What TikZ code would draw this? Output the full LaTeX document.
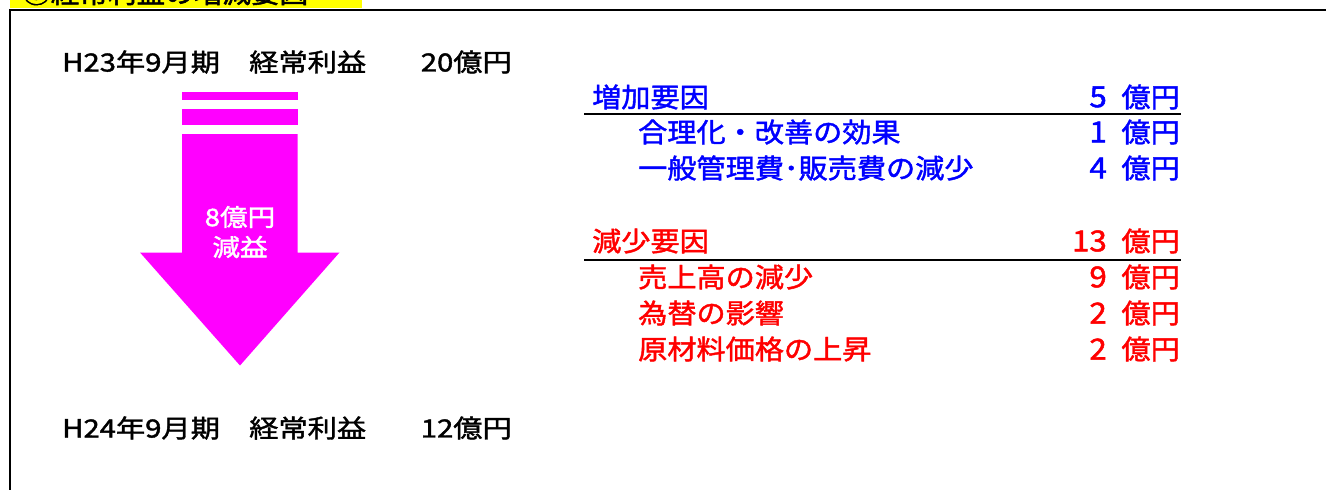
\documentclass[tikz,border=0pt]{standalone}
\usepackage{fontspec}
\setmainfont{Noto Sans CJK JP}
\newfontfamily\leftfont{Noto Sans CJK JP}[FakeStretch=1.17, FakeBold=1.6]
\newfontfamily\rightfont{Noto Sans CJK JP}[FakeStretch=1.08, FakeBold=1.6]
\newfontfamily\arrfont{Noto Sans CJK JP}[FakeStretch=1.15, FakeBold=1.6]
\newfontfamily\titlefont{Noto Sans CJK JP}[FakeStretch=1.1, FakeBold=2]
\definecolor{mag}{RGB}{255,0,255}
\definecolor{bluetxt}{RGB}{0,0,255}
\definecolor{redtxt}{RGB}{255,0,0}
\definecolor{titlebg}{RGB}{255,255,0}
\begin{document}
\begin{tikzpicture}[x=1pt,y=-1pt,
  lefttxt/.style={inner sep=0pt, font=\leftfont\fontsize{25}{25}\selectfont},
  rtxt/.style={inner sep=0pt, font=\rightfont\fontsize{27}{27}\selectfont},
  numtxt/.style={inner sep=0pt, font=\rightfont\fontsize{29}{29}\selectfont},
  arrowtxt/.style={inner sep=0pt, text=white, font=\arrfont\fontsize{24}{24}\selectfont},
  rule/.style={line width=2pt, black}]
\useasboundingbox (0,0) rectangle (1326,490);
\clip (0,0) rectangle (1326,490);
% title (cut off at top)
\fill[titlebg] (10,-20) rectangle (362,8);
\node[anchor=base west, inner sep=0pt, font=\titlefont\fontsize{26}{26}\selectfont] (title) at (22,3) {③経常利益の増減要因};
% frame
\draw[line width=2.5pt] (10,495) -- (10,10) -- (1330,10);
% left texts
\node[lefttxt, anchor=west] (h23) at (62,62) {H23年9月期　経常利益};
\node[lefttxt, anchor=east] (v23) at (512,62) {20億円};
\node[lefttxt, anchor=west] (h24) at (62,428) {H24年9月期　経常利益};
\node[lefttxt, anchor=east] (v24) at (512,428) {12億円};
% arrow
\fill[mag] (182,91.5) rectangle (297.5,99.5);
\fill[mag] (182,109) rectangle (297.5,125);
\fill[mag] (182,134) -- (297.5,134) -- (297.5,252.5) -- (339.5,252.5)
  -- (240,365.5) -- (140,252.5) -- (182,252.5) -- cycle;
\node[arrowtxt] (a1) at (240,217) {8億円};
\node[arrowtxt] (a2) at (240,247) {減益};
% increase factors
\node[rtxt, anchor=west, text=bluetxt] (inc) at (592,97) {増加要因};
\node[numtxt, anchor=east, text=bluetxt] (incn) at (1107,97) {5};
\node[rtxt, anchor=east, text=bluetxt] (incu) at (1180,97) {億円};
\draw[rule] (584,114) -- (1181,114);
\node[rtxt, anchor=west, text=bluetxt] (i1) at (638,132) {合理化・改善の効果};
\node[numtxt, anchor=east, text=bluetxt] (i1n) at (1107,132) {1};
\node[rtxt, anchor=east, text=bluetxt] (i1u) at (1180,132) {億円};
\node[rtxt, anchor=west, text=bluetxt] (i2) at (638,168) {一般管理費･販売費の減少};
\node[numtxt, anchor=east, text=bluetxt] (i2n) at (1107,168) {4};
\node[rtxt, anchor=east, text=bluetxt] (i2u) at (1180,168) {億円};
% decrease factors
\node[rtxt, anchor=west, text=redtxt] (dec) at (592,241) {減少要因};
\node[numtxt, anchor=east, text=redtxt] (decn) at (1107,241) {13};
\node[rtxt, anchor=east, text=redtxt] (decu) at (1180,241) {億円};
\draw[rule] (584,260) -- (1181,260);
\node[rtxt, anchor=west, text=redtxt] (d1) at (638,277) {売上高の減少};
\node[numtxt, anchor=east, text=redtxt] (d1n) at (1107,277) {9};
\node[rtxt, anchor=east, text=redtxt] (d1u) at (1180,277) {億円};
\node[rtxt, anchor=west, text=redtxt] (d2) at (638,313) {為替の影響};
\node[numtxt, anchor=east, text=redtxt] (d2n) at (1107,313) {2};
\node[rtxt, anchor=east, text=redtxt] (d2u) at (1180,313) {億円};
\node[rtxt, anchor=west, text=redtxt] (d3) at (638,349) {原材料価格の上昇};
\node[numtxt, anchor=east, text=redtxt] (d3n) at (1107,349) {2};
\node[rtxt, anchor=east, text=redtxt] (d3u) at (1180,349) {億円};
\end{tikzpicture}
\end{document}
